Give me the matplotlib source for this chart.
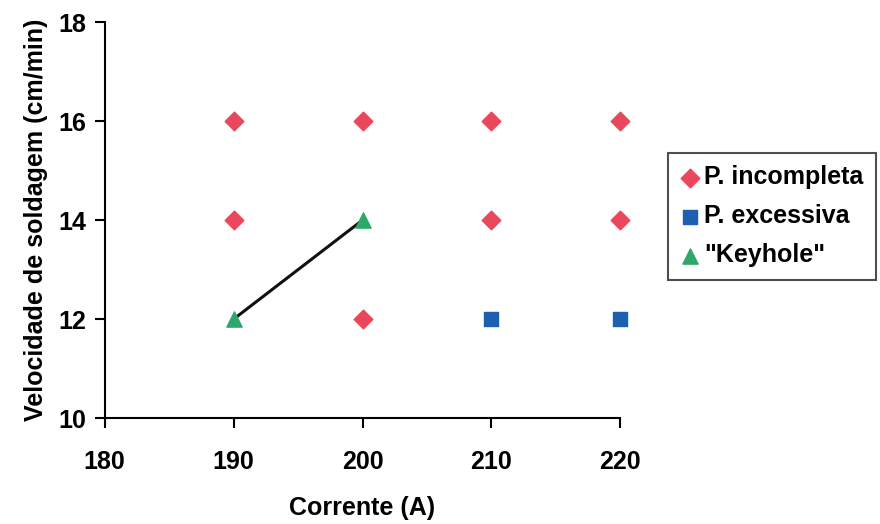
import matplotlib
matplotlib.use("Agg")
import matplotlib.pyplot as plt

plt.rcParams['font.family'] = ['Liberation Sans', 'DejaVu Sans']
plt.rcParams['font.weight'] = 'bold'

inc_x = [190, 200, 210, 220, 190, 210, 220, 200]
inc_y = [16, 16, 16, 16, 14, 14, 14, 12]
exc_x = [210, 220]
exc_y = [12, 12]
key_x = [190, 200]
key_y = [12, 14]
xticks = [180, 190, 200, 210, 220]
yticks = [10, 12, 14, 16, 18]

fig = plt.figure(figsize=(8.8, 5.24), dpi=100)
ax = fig.add_axes([0.119, 0.202, 0.586, 0.756])

ax.plot(key_x, key_y, color='#111111', lw=2.2, zorder=2, clip_on=False)
ax.scatter(inc_x, inc_y, marker='D', s=90, color='#e8475c', zorder=3, label='P. incompleta', clip_on=False)
ax.scatter(exc_x, exc_y, marker='s', s=100, color='#1d5fb0', zorder=3, label='P. excessiva', clip_on=False)
ax.scatter(key_x, key_y, marker='^', s=120, color='#2ea86a', zorder=3, label='"Keyhole"', clip_on=False)

ax.set_xlim(180, 220)
ax.set_ylim(10, 18)
ax.set_xticks(xticks)
ax.set_yticks(yticks)
ax.spines['top'].set_visible(False)
ax.spines['right'].set_visible(False)
for s in ['left', 'bottom']:
    ax.spines[s].set_linewidth(1.5)
ax.tick_params(labelsize=18, width=1.5, length=7)
ax.tick_params(axis='x', pad=16)
ax.tick_params(axis='y', pad=6)
ax.set_xlabel('Corrente (A)', fontsize=18, fontweight='bold', labelpad=16)
ax.set_ylabel('Velocidade de soldagem (cm/min)', fontsize=18, fontweight='bold', labelpad=8)

leg = ax.legend(loc='upper left', bbox_to_anchor=(1.092, 0.67), fontsize=18, frameon=True,
                fancybox=False, edgecolor='#222222', handletextpad=0.15, borderpad=0.5,
                labelspacing=0.6, handlelength=0.8, borderaxespad=0, scatterpoints=1)
leg.get_frame().set_linewidth(1.5)

fig.savefig('out.png', dpi=100, facecolor='white')
